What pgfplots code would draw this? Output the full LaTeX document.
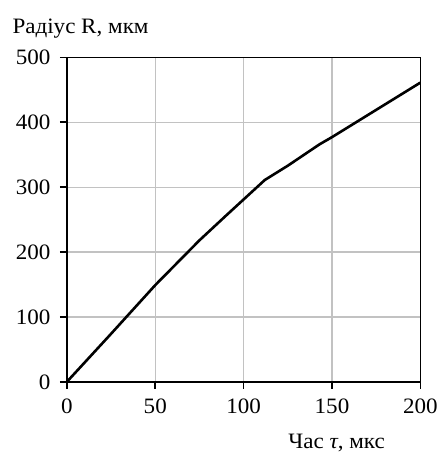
\documentclass[border=0pt]{standalone}
\usepackage{pgfplots}
\pgfplotsset{compat=1.18}
\usepackage{fontspec}
\setmainfont{Liberation Serif}[FakeStretch=1.05]

\begin{document}
\fontsize{22}{26}\selectfont
\begin{tikzpicture}[font=\fontsize{22}{26}\selectfont]
\begin{axis}[
  scale only axis, width=354pt, height=325pt,
  xmin=0, xmax=200, ymin=0, ymax=500,
  xtick={0,50,...,200}, ytick={0,100,...,500},
  grid=major, major grid style={color=black!24, line width=1.2pt},
  axis line style={line width=1.6pt},
  tick align=outside, major tick length=7pt,
  tick style={black, line width=1.6pt},
  xtick pos=left, ytick pos=left,
  /pgf/number format/assume math mode=true,
  xticklabel style={yshift=-3pt},
  yticklabel style={xshift=-2pt},
  every axis y label/.style={at={(rel axis cs:0,1)}, anchor=base west, xshift=-62pt, yshift=24pt},
  ylabel={Радіус R, мкм},
  every axis x label/.style={at={(rel axis cs:0.763,0)}, anchor=base, yshift=-66.5pt},
  xlabel={Час {\itshape τ}, мкс},
]
\addplot[black, line width=2.6pt, line join=round] coordinates {
  (0,0) (25,74) (50,149) (75,218) (90,256) (100,281) (112,311)
  (125,333) (131,344) (143,366) (150,377) (175,419) (200,461)
};
\end{axis}
\pgfresetboundingbox
\useasboundingbox (-67pt,-71.3pt) rectangle (371pt,382.4pt);
\end{tikzpicture}
\end{document}
